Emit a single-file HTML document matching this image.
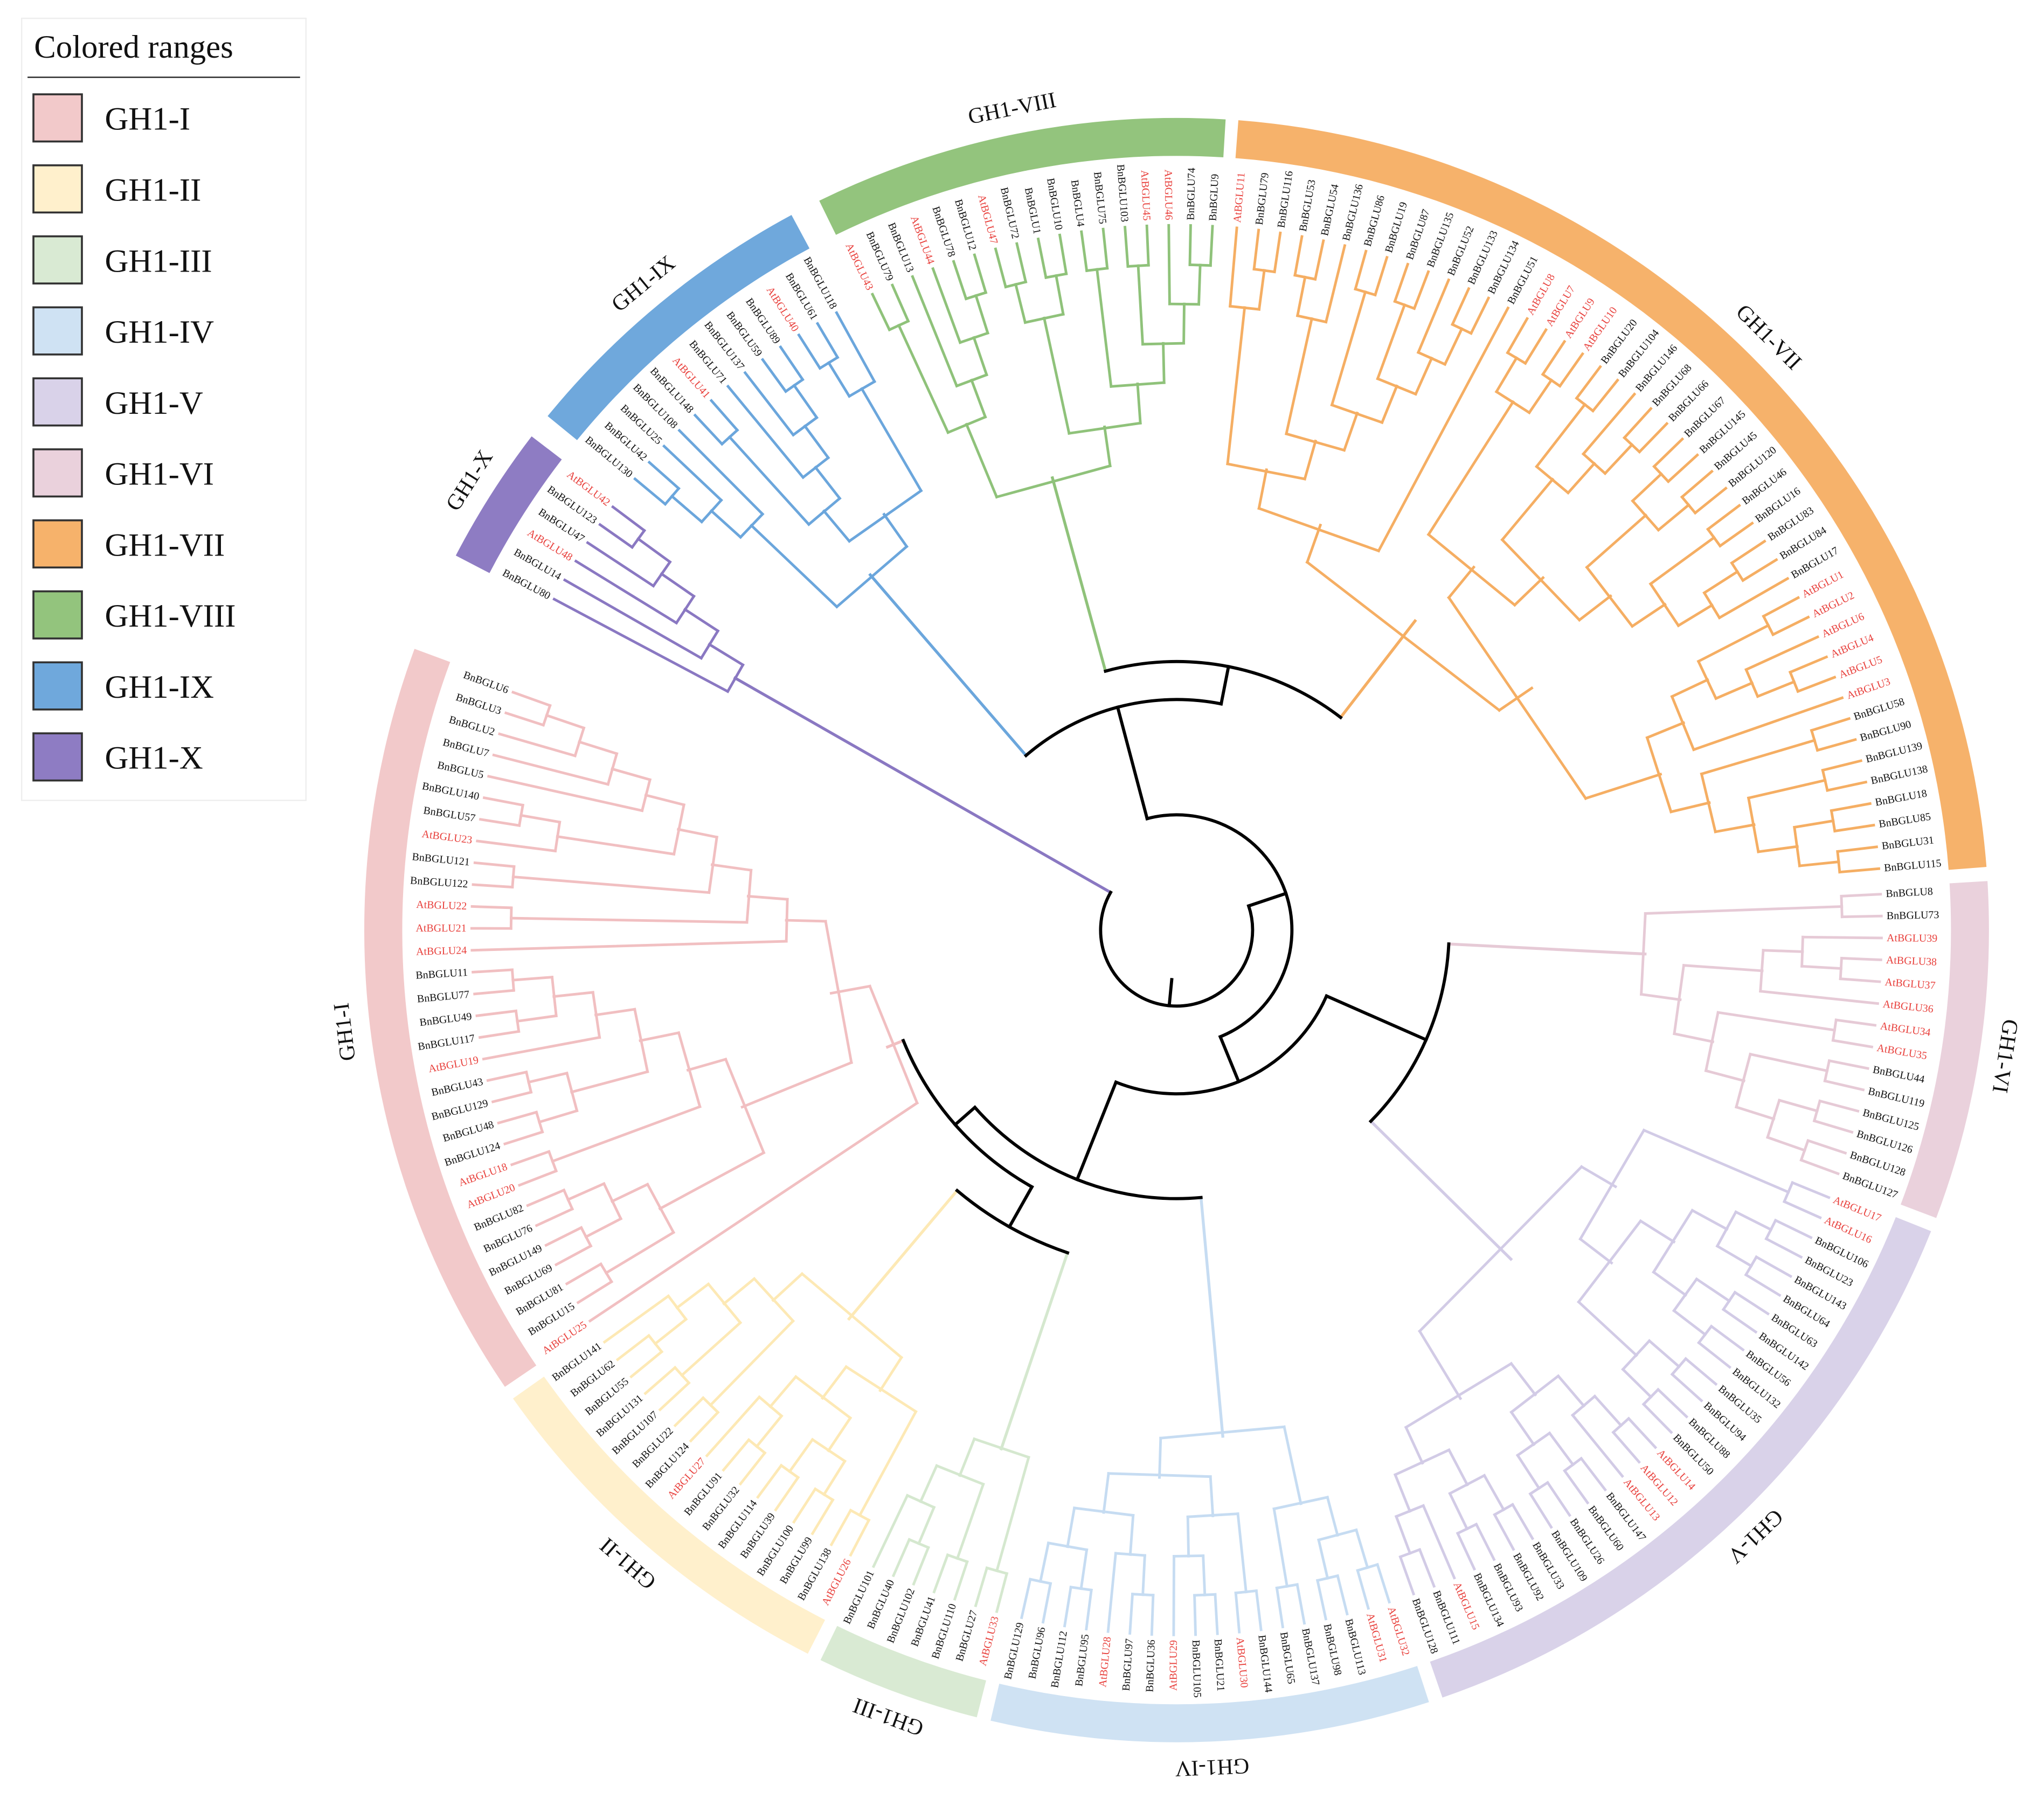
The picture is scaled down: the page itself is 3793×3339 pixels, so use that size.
<!DOCTYPE html>
<html><head><meta charset="utf-8"><title>GH1 phylogenetic tree</title>
<style>
html,body{margin:0;padding:0;background:#fff;}
svg{display:block;}
text{font-family:"Liberation Serif","DejaVu Serif",serif;}
</style></head>
<body>
<svg id="chart" xmlns="http://www.w3.org/2000/svg" width="3793" height="3339" viewBox="0 0 1560 1373.3">
  <rect x="0" y="0" width="1560" height="1373.3" fill="#fff"/>
  <g id="legend">
    <rect x="16.5" y="14" width="217" height="597" fill="#fff" stroke="#eee" stroke-width="1"/>
    <text x="26" y="44" font-size="25" fill="#111">Colored ranges</text>
    <line x1="21" y1="59" x2="229" y2="59" stroke="#222" stroke-width="1"/>
  </g>
  <g id="rings"></g>
  <g id="branches"></g>
  <g id="leaves"></g>
  <g id="cladelabels"></g>
</svg>
<script>
// ---- data ----
const cladeNames = ["GH1-IX","GH1-VIII","GH1-VII","GH1-VI","GH1-V","GH1-IV","GH1-III","GH1-II","GH1-I","GH1-X"];
const legendNames = ["GH1-I","GH1-II","GH1-III","GH1-IV","GH1-V","GH1-VI","GH1-VII","GH1-VIII","GH1-IX","GH1-X"];
const legendColors = ["#f2c9ca","#fff0cc","#d9ead3","#cfe2f3","#d9d2e9","#ead1dc","#f6b26b","#93c47d","#6fa8dc","#8e7cc3"];
const ringColors = ["#6fa8dc","#93c47d","#f6b26b","#ead1dc","#d9d2e9","#cfe2f3","#d9ead3","#fff0cc","#f2c9ca","#8e7cc3"];
const branchColors = ["#6ba6dc","#8fc27a","#f5ae63","#e6cad6","#d2cbe6","#c6dcf2","#d5e8cf","#fde9b5","#f1bfc1","#8a78c2"];

const leavesIX = [130,42,25,108,148,"A41",71,137,59,89,"A40",61,118];
const leavesVIII = ["A43",79,13,"A44",78,12,"A47",72,1,10,4,75,103,"A45","A46",74,9];
const leavesVII = ["A11",79,116,53,54,136,86,19,87,135,52,133,134,51,"A8","A7","A9","A10",20,104,146,68,66,67,145,45,120,46,16,83,84,17,"A1","A2","A6","A4","A5","A3",58,90,139,138,18,85,31,115];
const leavesVI = [8,73,"A39","A38","A37","A36","A34","A35",44,119,125,126,128,127];
const leavesV = ["A17","A16",106,23,143,64,63,142,56,132,35,94,88,50,"A14","A12","A13",147,60,26,109,33,92,93,134,"A15",111,128];
const leavesIV = ["A32","A31",113,98,137,65,144,"A30",21,105,"A29",36,97,"A28",95,112,96,129];
const leavesIII = ["A33",27,110,41,102,40,101];
const leavesII = ["A26",138,99,100,39,114,32,91,"A27",124,22,107,131,55,62,141];
const leavesI = ["A25",15,81,69,149,76,82,"A20","A18",124,48,129,43,"A19",117,49,77,11,"A24","A21","A22",122,121,"A23",57,140,5,7,2,3,6];
const leavesX = [80,14,"A48",47,123,"A42"];

const treeIX = [[[[130,42],25],108],[[[148,"A41"],[71,[137,[59,89]]]],[["A40",61],118]]];
const treeVIII = [[["A43",79],[13,["A44",[78,12]]]],[[["A47",72],[1,10]],[[4,75],[[103,"A45"],["A46",[74,9]]]]]];
const treeVII = [[[["A11",[79,116]],[[[53,54],136],[[86,19],[[87,135],[52,[133,134]]]]]],51],[[[["A8","A7"],["A9","A10"]],[[[20,104],[146,[68,66]]],[[[67,145],[45,120]],[[46,16],[[83,84],17]]]]],[[[["A1","A2"],["A6",["A4","A5"]]],"A3"],[[58,90],[[139,138],[[18,85],[31,115]]]]]]];
const treeVI = [[8,73],[[["A39",["A38","A37"]],"A36"],[["A34","A35"],[[44,119],[[125,126],[128,127]]]]]];
const treeV = [[["A17","A16"],[[[[106,23],[143,64]],[[63,142],[56,132]]],[[35,94],[88,50]]]],[[[["A14","A12"],"A13"],[[147,60],[26,109]]],[[[33,92],[93,134]],["A15",[111,128]]]]];
const treeIV = [[[["A32","A31"],[113,98]],[137,65]],[[[144,"A30"],[[21,105],"A29"]],[[[36,97],"A28"],[[95,112],[96,129]]]]];
const treeIII = [["A33",27],[[110,41],[[102,40],101]]];
const treeII = [[["A26",138],[[[99,100],[39,114]],[[32,91],"A27"]]],[[124,22],[[107,131],[[55,62],141]]]];
const treeI = ["A25",[[[[[82,76],[149,69]],[81,15]],[[[[[117,49],[77,11]],"A19"],[[43,129],[48,124]]],["A18","A20"]]],[[[[[[[[6,3],2],7],5],[[140,57],"A23"]],[121,122]],["A22","A21"]],"A24"]]];
const treeX = [[[[["A42",123],47],"A48"],14],80];

const cladeLeaves = [leavesIX,leavesVIII,leavesVII,leavesVI,leavesV,leavesIV,leavesIII,leavesII,leavesI,leavesX];
const cladeTrees = [treeIX,treeVIII,treeVII,treeVI,treeV,treeIV,treeIII,treeII,treeI,treeX];
const backbone = [[[0,[1,2]],[[3,4],[5,[[6,7],8]]]],9];

// ---- layout constants ----
const CX=898, CY=710, TIP=538, LAB=542, STEP=30, RIN=591, ROUT=620, START=-140.2, AST=1.78, RPAD=0.35;
const cladeGap = [0,1.5,0.2,0.3,0.3,0.3,0.3,0.3,0.3,6.5];
const bbRadius = {"":58,"0":88,"00":176,"001":205,"01":125,"010":208,"011":205,"0111":225,"01110":260};

const NS="http://www.w3.org/2000/svg";
function P(a,r){const t=a*Math.PI/180;return [CX+r*Math.cos(t),CY+r*Math.sin(t)];}
function mk(tag,attrs,parent){const e=document.createElementNS(NS,tag);for(const k in attrs)e.setAttribute(k,attrs[k]);parent.appendChild(e);return e;}
function fullName(s){return (typeof s==="string"&&s[0]==="A")?"AtBGLU"+s.slice(1):"BnBGLU"+s;}

const gR=document.getElementById("rings"), gB=document.getElementById("branches"),
      gL=document.getElementById("leaves"), gC=document.getElementById("cladelabels"),
      gLeg=document.getElementById("legend");

legendNames.forEach((n,i)=>{
  const y=72+i*54.2;
  const sw=mk("rect",{x:25.5,y:y,width:37,height:36,fill:legendColors[i],stroke:"#333","stroke-width":1.5},gLeg);
  
  
  const t=mk("text",{x:80,y:y+27,"font-size":25,fill:"#111"},gLeg);
  t.textContent=n;
  
  
});

let idx=0, gapAcc=0;
const cladeAngles=[];
cladeLeaves.forEach((list,ci)=>{
  gapAcc+=cladeGap[ci];
  const m={};
  list.forEach(l=>{m[l]=START+idx*AST+gapAcc; idx++;});
  cladeAngles.push(m);
});

function line(a1,r1,a2,r2,col,w,name){
  const p1=P(a1,r1),p2=P(a2,r2);
  const e=mk("line",{x1:p1[0],y1:p1[1],x2:p2[0],y2:p2[1],stroke:col,"stroke-width":w,"stroke-linecap":"square"},gB);
  
  
}
function arc(a1,a2,r,col,w,name){
  const p1=P(a1,r),p2=P(a2,r);const large=(a2-a1)>180?1:0;
  const e=mk("path",{d:`M${p1[0]},${p1[1]} A${r},${r} 0 ${large} 1 ${p2[0]},${p2[1]}`,fill:"none",stroke:col,"stroke-width":w,"stroke-linecap":"square"},gB);
  
  
}

function drawNode(node,ci){
  if(!Array.isArray(node)) return {a:cladeAngles[ci][node], r:TIP, h:0};
  const kids=node.map(k=>drawNode(k,ci));
  const h=1+Math.max(...kids.map(k=>k.h));
  const r=TIP-STEP*h;
  const col=branchColors[ci];
  kids.forEach(k=>line(k.a,r,k.a,k.r,col,2,"branch-"+cladeNames[ci].toLowerCase()));
  const a1=kids[0].a, a2=kids[kids.length-1].a;
  line(a1,r,a2,r,col,2,"node-connector-"+cladeNames[ci].toLowerCase());
  return {a:(a1+a2)/2, r:r, h:h, ci:ci};
}
const cladeRoots = cladeTrees.map((t,ci)=>drawNode(t,ci));

function drawBackbone(node,path){
  if(!Array.isArray(node)) return Object.assign({clade:true},cladeRoots[node]);
  const kids=node.map((k,i)=>drawBackbone(k,path+i));
  const r=bbRadius[path];
  kids.forEach(k=>{
    const col=k.clade?branchColors[k.ci]:"#000";
    line(k.a,r,k.a,k.r,col,k.clade?2.2:2.4,k.clade?"clade-stem-"+cladeNames[k.ci].toLowerCase():"backbone-branch");
  });
  const a1=Math.min(...kids.map(k=>k.a)), a2=Math.max(...kids.map(k=>k.a));
  arc(a1,a2,r,"#000",2.4,"backbone-arc");
  return {a:(a1+a2)/2, r:r, clade:false};
}
const rootNode=drawBackbone(backbone,"");
line(rootNode.a,rootNode.r,rootNode.a,rootNode.r-20,"#000",2.4,"root-stub");

cladeLeaves.forEach((list,ci)=>{
  list.forEach(l=>{
    const a=cladeAngles[ci][l];
    let n=((a%360)+360)%360;
    const p=P(a,LAB);
    const left=n>90&&n<270;
    const t=mk("text",{x:p[0],y:p[1],"font-size":8.2,"dominant-baseline":"central",
      "text-anchor":left?"end":"start",
      transform:`rotate(${left?a+180:a} ${p[0]} ${p[1]})`,
      fill:(typeof l==="string")?"#e8403c":"#111"},gL);
    t.textContent=fullName(l);
    
    
  });
});

cladeLeaves.forEach((list,ci)=>{
  const angs=list.map(l=>cladeAngles[ci][l]);
  const a1=Math.min(...angs)-AST/2+RPAD, a2=Math.max(...angs)+AST/2-RPAD;
  const o1=P(a1,ROUT),o2=P(a2,ROUT),i1=P(a2,RIN),i2=P(a1,RIN);
  const lg=(a2-a1)>180?1:0;
  const e=mk("path",{d:`M${o1[0]},${o1[1]} A${ROUT},${ROUT} 0 ${lg} 1 ${o2[0]},${o2[1]} L${i1[0]},${i1[1]} A${RIN},${RIN} 0 ${lg} 0 ${i2[0]},${i2[1]} Z`,fill:ringColors[ci]},gR);
  
  
  const am=(a1+a2)/2, p=P(am,640);
  const t=mk("text",{x:p[0],y:p[1],"font-size":17,"text-anchor":"middle","dominant-baseline":"central",
    transform:`rotate(${am+90} ${p[0]} ${p[1]})`,fill:"#111"},gC);
  t.textContent=cladeNames[ci];
  
  
});
</script>
</body></html>
